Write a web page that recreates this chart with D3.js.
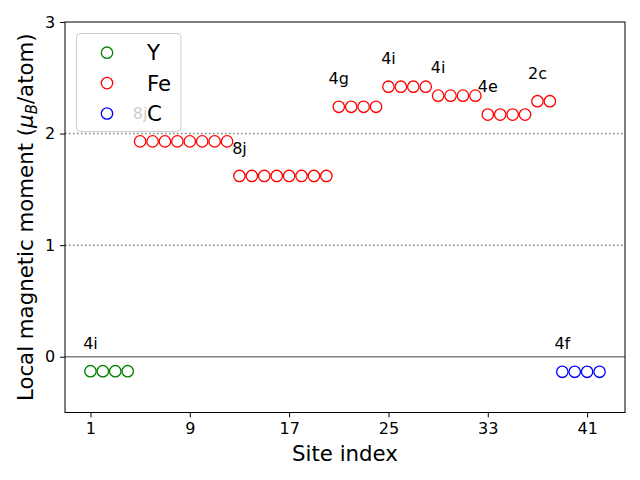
<!DOCTYPE html>
<html>
<head>
<meta charset="utf-8">
<style>
  body { margin: 0; background: #fff; }
  svg { font-family: "DejaVu Sans", sans-serif; }
</style>
</head>
<body>
<svg width="640" height="480"></svg>
<script src="https://cdn.jsdelivr.net/npm/d3@7"></script>
<script>
// --- data ---
var ySites = [1, 2, 3, 4];
var yMoments = [-0.13, -0.13, -0.13, -0.13];

var feSites = [5, 6, 7, 8, 9, 10, 11, 12, 13, 14, 15, 16, 17, 18, 19, 20,
               21, 22, 23, 24, 25, 26, 27, 28, 29, 30, 31, 32, 33, 34, 35, 36, 37, 38];
var feMoments = [1.93, 1.93, 1.93, 1.93, 1.93, 1.93, 1.93, 1.93,
                 1.62, 1.62, 1.62, 1.62, 1.62, 1.62, 1.62, 1.62,
                 2.24, 2.24, 2.24, 2.24,
                 2.42, 2.42, 2.42, 2.42,
                 2.34, 2.34, 2.34, 2.34,
                 2.17, 2.17, 2.17, 2.17,
                 2.29, 2.29];

var cSites = [39, 40, 41, 42];
var cMoments = [-0.135, -0.135, -0.135, -0.135];

// Wyckoff labels, placed over the first site of each group
var wyckoffText = ["4i", "8j", "8j", "4g", "4i", "4i", "4e", "2c", "4f"];
var wyckoffSite = [1, 5, 13, 21, 25, 29, 33, 37, 39];

var xTicks = [1, 9, 17, 25, 33, 41];
var yTicks = [0, 1, 2, 3];

var series = [
  { name: "Y", color: "green", sites: ySites, values: yMoments },
  { name: "Fe", color: "red", sites: feSites, values: feMoments },
  { name: "C", color: "blue", sites: cSites, values: cMoments }
];

// --- layout ---
var svg = d3.select("svg");
var padL = 65, padR = 625, padT = 22, padB = 412.5;

var x = d3.scaleLinear().domain([-1.05, 44.05]).range([padL, padR]);
var y = d3.scaleLinear().domain([-0.5, 3]).range([padB, padT]);

// reference lines
svg.selectAll("line.ref")
  .data([0, 1, 2]).enter()
  .append("line")
  .attr("class", "ref")
  .attr("x1", padL).attr("x2", padR)
  .attr("y1", function(d) { return y(d); })
  .attr("y2", function(d) { return y(d); })
  .attr("stroke", "gray")
  .attr("stroke-width", 1.5)
  .attr("stroke-dasharray", function(d) { return d === 0 ? null : "1.5,2.5"; });

// markers
series.forEach(function(s) {
  svg.append("g").selectAll("circle")
    .data(s.sites).enter()
    .append("circle")
    .attr("cx", function(d) { return x(d); })
    .attr("cy", function(d, i) { return y(s.values[i]); })
    .attr("r", 5.7)
    .attr("fill", "none")
    .attr("stroke", s.color)
    .attr("stroke-width", 1.3);
});

// value lookup for labels
function valueAt(site) {
  for (var k = 0; k < series.length; k++) {
    var idx = series[k].sites.indexOf(site);
    if (idx >= 0) return series[k].values[idx];
  }
  return 0;
}

svg.append("g").selectAll("text")
  .data(wyckoffText).enter()
  .append("text")
  .attr("x", function(d, i) { return x(wyckoffSite[i]); })
  .attr("y", function(d, i) { return y(valueAt(wyckoffSite[i]) + 0.2); })
  .attr("text-anchor", "middle")
  .attr("font-size", 16)
  .text(function(d) { return d; });

// axes
var xAxis = svg.append("g")
  .attr("transform", "translate(0," + padB + ")")
  .call(d3.axisBottom(x).tickValues(xTicks).tickFormat(d3.format("d"))
    .tickSizeOuter(0).tickSize(4.9).tickPadding(4.9));
var yAxis = svg.append("g")
  .attr("transform", "translate(" + padL + ",0)")
  .call(d3.axisLeft(y).tickValues(yTicks).tickFormat(d3.format("d"))
    .tickSizeOuter(0).tickSize(4.9).tickPadding(4.9));

[xAxis, yAxis].forEach(function(a) {
  a.select(".domain").remove();
  a.selectAll("line").attr("stroke", "black").attr("stroke-width", 1);
  a.selectAll("text").attr("font-size", 16).attr("fill", "black")
    .attr("font-family", "DejaVu Sans");
});

// frame
svg.append("rect")
  .attr("x", padL).attr("y", padT)
  .attr("width", padR - padL).attr("height", padB - padT)
  .attr("fill", "none").attr("stroke", "black").attr("stroke-width", 1);

// axis titles
svg.append("text")
  .attr("x", (padL + padR) / 2).attr("y", 461)
  .attr("text-anchor", "middle")
  .attr("font-size", 21.3)
  .text("Site index");

var yl = svg.append("text")
  .attr("transform", "translate(32.5," + (padT + padB) / 2 + ") rotate(-90)")
  .attr("text-anchor", "middle")
  .attr("font-size", 21.3);
yl.append("tspan").text("Local magnetic moment (");
yl.append("tspan").attr("font-style", "italic").text("μ");
yl.append("tspan").attr("font-style", "italic").attr("font-size", 15).attr("dy", 4).text("B");
yl.append("tspan").attr("dy", -4).text("/atom)");

// legend
var legend = svg.append("g");
legend.append("rect")
  .attr("x", 76.5).attr("y", 33.5)
  .attr("width", 104.5).attr("height", 98)
  .attr("rx", 4)
  .attr("fill", "white").attr("fill-opacity", 0.8)
  .attr("stroke", "#cccccc").attr("stroke-width", 1);

var items = legend.selectAll("g.item")
  .data(series).enter()
  .append("g")
  .attr("transform", function(d, i) { return "translate(0," + (52.7 + i * 30.4) + ")"; });
items.append("circle")
  .attr("cx", 107).attr("cy", 0).attr("r", 5.7)
  .attr("fill", "none")
  .attr("stroke", function(d) { return d.color; })
  .attr("stroke-width", 1.3);
items.append("text")
  .attr("x", 147).attr("y", 7.5)
  .attr("font-size", 21.3)
  .text(function(d) { return d.name; });
</script>
</body>
</html>
